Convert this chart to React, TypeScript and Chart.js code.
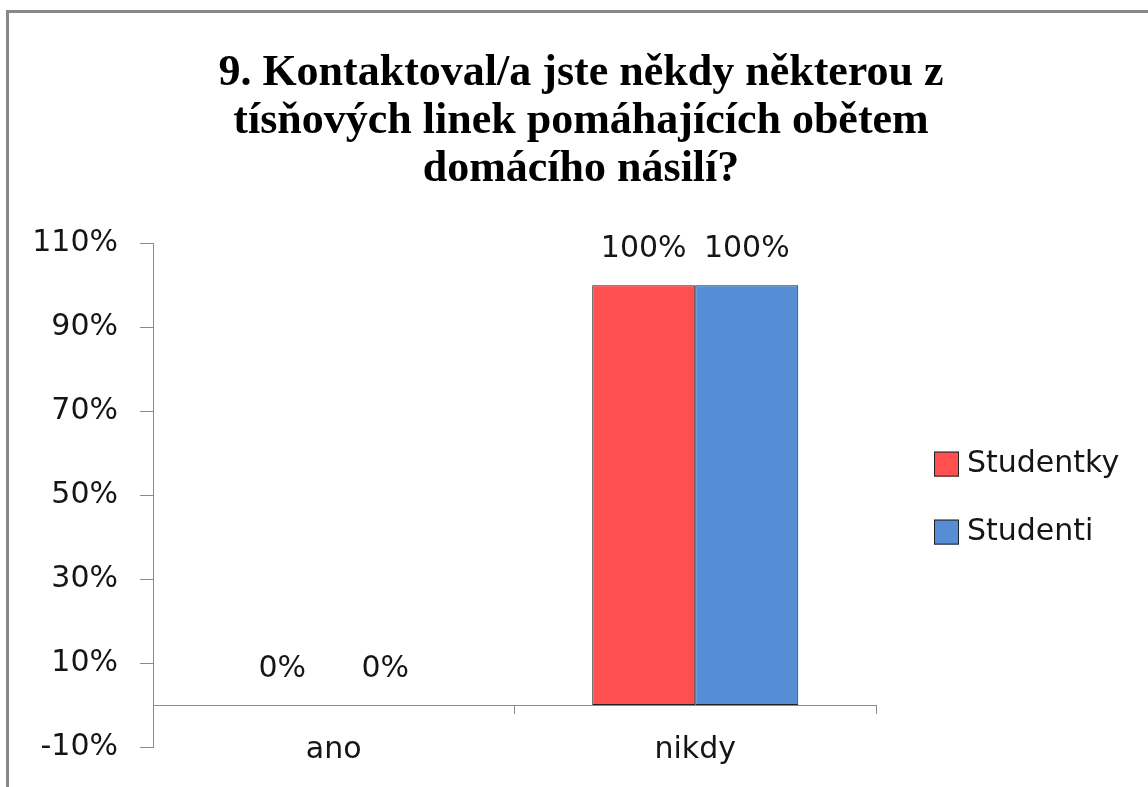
import React, { useEffect, useRef } from 'react';
import { Chart, registerables } from 'chart.js';

Chart.register(...registerables);

const titleLines = [
  '9. Kontaktoval/a jste někdy některou z',
  'tísňových linek pomáhajících obětem',
  'domácího násilí?',
];
const categories = ['ano', 'nikdy'];
const seriesNames = ['Studentky', 'Studenti'];
const studentky = [0, 100];
const studenti = [0, 100];
const seriesColors = ['#FF4F4F', '#558ED5'];
const yMin = -10;
const yMax = 110;
const yStep = 20;

const FONT = '"DejaVu Sans", sans-serif';
const TEXT = '#151515';
const AXIS = '#8a8a8a';
const EDGE = '#222';

const valueLabels = {
  id: 'valueLabels',
  afterDatasetsDraw(chart: any) {
    const ctx = chart.ctx;
    ctx.save();
    ctx.font = `30px ${FONT}`;
    ctx.fillStyle = TEXT;
    ctx.textAlign = 'center';
    ctx.textBaseline = 'middle';
    chart.data.datasets.forEach((ds: any, i: number) => {
      chart.getDatasetMeta(i).data.forEach((bar: any, j: number) => {
        ctx.fillText(`${ds.data[j]}%`, bar.x, bar.y - 36);
      });
    });
    ctx.restore();
  },
};

// Legend to the right of the plot, built from the datasets
const sideLegend = {
  id: 'sideLegend',
  afterDraw(chart: any) {
    const { ctx, chartArea } = chart;
    const box = 25;
    const rowGap = 68;
    const x = chartArea.right + 58;
    const n = chart.data.datasets.length;
    const midY = (chartArea.top + chartArea.bottom) / 2;
    ctx.save();
    ctx.font = `30px ${FONT}`;
    ctx.textAlign = 'left';
    ctx.textBaseline = 'middle';
    chart.data.datasets.forEach((ds: any, i: number) => {
      const cy = midY + (i - (n - 1) / 2) * rowGap + 3;
      ctx.fillStyle = ds.backgroundColor;
      ctx.fillRect(x, cy - box / 2, box, box);
      ctx.strokeStyle = EDGE;
      ctx.lineWidth = 1;
      ctx.strokeRect(x + 0.5, cy - box / 2 + 0.5, box - 1, box - 1);
      ctx.fillStyle = TEXT;
      ctx.fillText(ds.label, x + box + 8, cy);
    });
    ctx.restore();
  },
};

export default function App() {
  const canvasRef = useRef<HTMLCanvasElement | null>(null);

  useEffect(() => {
    const canvas = canvasRef.current;
    if (!canvas) return;
    const chart = new Chart(canvas, {
      type: 'bar',
      data: {
        labels: categories,
        datasets: [
          {
            label: seriesNames[0],
            data: studentky,
            backgroundColor: seriesColors[0],
            borderColor: EDGE,
            borderWidth: 1,
            borderSkipped: false,
          },
          {
            label: seriesNames[1],
            data: studenti,
            backgroundColor: seriesColors[1],
            borderColor: EDGE,
            borderWidth: 1,
            borderSkipped: false,
          },
        ],
      },
      options: {
        responsive: false,
        animation: false,
        layout: { padding: { left: 24, right: 10, top: 24, bottom: 39 } },
        datasets: { bar: { categoryPercentage: 0.57, barPercentage: 1 } },
        plugins: {
          title: {
            display: true,
            text: titleLines,
            color: '#000',
            font: { family: '"Liberation Serif", serif', size: 44, weight: 'bold', lineHeight: 1.1 },
            padding: { top: 25, bottom: 49 },
          },
          legend: { display: false },
          tooltip: { enabled: false },
        },
        scales: {
          x: {
            position: { y: 0 } as any,
            grid: { drawOnChartArea: false, tickLength: 8, color: AXIS },
            border: { display: true, color: AXIS, width: 1 },
            ticks: { color: TEXT, font: { family: FONT, size: 30 }, padding: 19 },
          },
          y: {
            min: yMin,
            max: yMax,
            ticks: {
              stepSize: yStep,
              color: TEXT,
              font: { family: FONT, size: 30 },
              padding: 22,
              callback: (v: any) => `${v}%`,
            },
            grid: { drawOnChartArea: false, tickLength: 13, color: AXIS },
            border: { display: true, color: AXIS, width: 1 },
            afterFit: (s: any) => {
              s.width = 129;
            },
          },
          legendSpace: {
            type: 'linear',
            position: 'right',
            display: true,
            grid: { display: false },
            border: { display: false },
            ticks: { display: false },
            afterFit: (s: any) => {
              s.width = 262;
            },
          },
        },
      },
      plugins: [valueLabels, sideLegend],
    } as any);
    return () => chart.destroy();
  }, []);

  return (
    <div style={{ position: 'fixed', inset: 0, overflow: 'hidden', background: '#fff' }}>
      <div
        style={{
          position: 'absolute',
          left: 6,
          top: 10,
          width: 1300,
          height: 1000,
          border: '3px solid #888',
          boxSizing: 'border-box',
        }}
      />
      <canvas
        ref={canvasRef}
        width={1148}
        height={787}
        style={{ position: 'absolute', left: 0, top: 0, width: 1148, height: 787 }}
      />
    </div>
  );
}
